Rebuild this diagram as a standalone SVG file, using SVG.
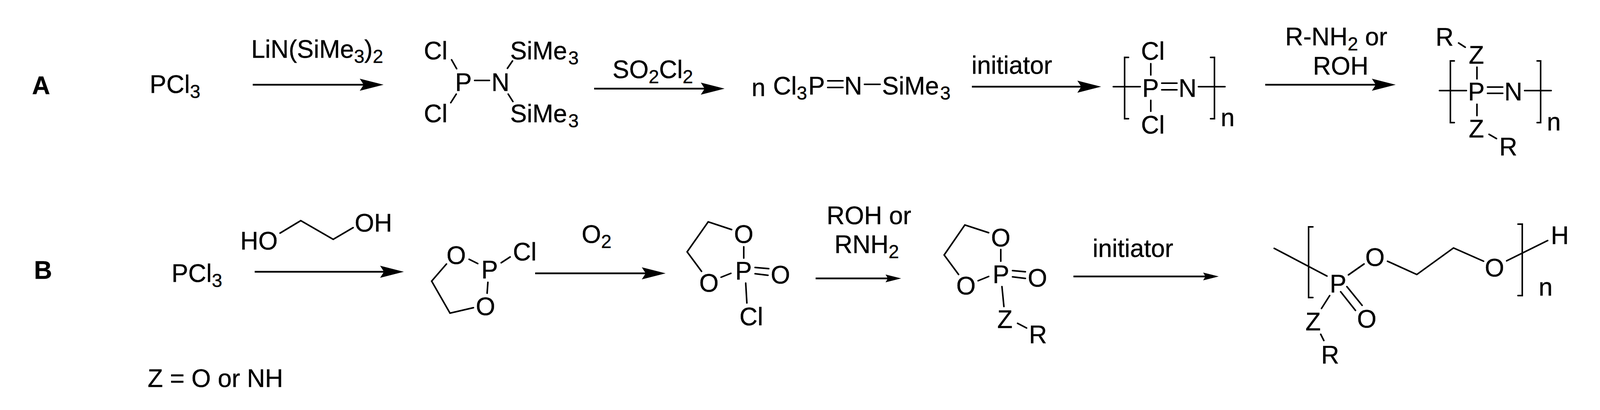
<svg xmlns="http://www.w3.org/2000/svg" width="4104" height="1050" viewBox="0 0 4104 1050">
<style>
text{font-family:"Liberation Sans",Arial,sans-serif;font-size:64px;fill:#000;stroke:#000;stroke-width:.5}
.h{font-weight:bold}
.s{font-size:48px}
.b{stroke:#000;stroke-width:4;stroke-linecap:round;fill:none}
.a{stroke:#000;stroke-width:4.4;fill:none}
.big{marker-end:url(#big)}
.small{marker-end:url(#small)}
</style>
<defs>
<marker id="big" markerUnits="userSpaceOnUse" markerWidth="62" markerHeight="32" refX="11" refY="16" orient="auto" viewBox="0 0 62 32"><path d="M0 0.5L61 16L0 31.5L10 16Z" fill="#000"/></marker>
<marker id="small" markerUnits="userSpaceOnUse" markerWidth="41" markerHeight="21" refX="7" refY="10.5" orient="auto" viewBox="0 0 41 21"><path d="M0 0.5L40 10.5L0 20.5L6 10.5Z" fill="#000"/></marker>
</defs>
<rect width="4104" height="1050" fill="#fff"/>

<g id="connectors">
<line class="a big" x1="647" y1="217" x2="932" y2="217"/>
<line class="a big" x1="1521" y1="227" x2="1805" y2="227"/>
<line class="a big" x1="2488" y1="222" x2="2769" y2="222"/>
<line class="a big" x1="3239" y1="217" x2="3523" y2="217"/>
<line class="a big" x1="652" y1="696" x2="984" y2="696"/>
<line class="a big" x1="1370" y1="700" x2="1654" y2="700"/>
<line class="a small" x1="2088" y1="713" x2="2274" y2="713"/>
<line class="a small" x1="2748" y1="708" x2="3087" y2="708"/>
</g>

<g id="label-A"><text class="h" x="82" y="241">A</text></g>
<g id="label-B"><text class="h" x="87" y="714">B</text></g>
<g id="note-Z"><text x="378" y="991">Z = O or NH</text></g>

<g id="A-PCl3"><text x="383" y="238">PCl<tspan class="s" dy="13">3</tspan></text></g>
<g id="A-reagent-1"><text x="643" y="148">LiN(SiMe<tspan class="s" dy="13">3</tspan><tspan dy="-13">)</tspan><tspan class="s" dy="13">2</tspan></text></g>

<g id="A-aminophosphine">
<text x="1085" y="152">Cl</text>
<text x="1085" y="313">Cl</text>
<text x="1165" y="233">P</text>
<text x="1258" y="233">N</text>
<text x="1306" y="152">SiMe<tspan class="s" dx="3" dy="13">3</tspan></text>
<text x="1306" y="313">SiMe<tspan class="s" dx="3" dy="13">3</tspan></text>
<path class="b" d="M1156 153L1169 176M1168 241L1154 263M1215 206H1253M1312 156L1299 175M1301 241L1313 260"/>
</g>

<g id="A-reagent-2"><text x="1568" y="200">SO<tspan class="s" dy="13">2</tspan><tspan dy="-13">Cl</tspan><tspan class="s" dy="13">2</tspan></text></g>

<g id="A-monomer">
<text x="1924" y="246">n</text>
<text x="1979" y="242">Cl<tspan class="s" dy="13">3</tspan></text>
<text x="2069" y="242">P</text>
<text x="2161" y="242">N</text>
<text x="2258" y="242">SiMe<tspan class="s" dx="3" dy="13">3</tspan></text>
<path class="b" d="M2119 207H2158M2119 224H2158M2213 216H2253"/>
</g>

<g id="A-initiator"><text x="2487" y="189">initiator</text></g>

<g id="A-polymer-Cl">
<text x="2921" y="153">Cl</text>
<text x="2921" y="342">Cl</text>
<text x="2924" y="248">P</text>
<text x="3017" y="248">N</text>
<text x="3125" y="323">n</text>
<path class="b" d="M2946 163V192M2946 257V285M2850 222H2919M3068 222H3136M2974 213H3013M2974 230H3013"/>
<path class="b" d="M2889 147H2879V304H2889M3099 147H3109V304H3099"/>
</g>

<g id="A-reagent-3">
<text x="3290" y="116">R-NH<tspan class="s" dy="13">2</tspan><tspan dy="-13"> or</tspan></text>
<text x="3361" y="191">ROH</text>
</g>

<g id="A-polymer-Z">
<text x="3675" y="117">R</text>
<text x="3760" y="163">Z</text>
<text x="3758" y="257">P</text>
<text x="3851" y="257">N</text>
<text x="3760" y="352">Z</text>
<text x="3838" y="398">R</text>
<text x="3960" y="334">n</text>
<path class="b" d="M3734 110L3751 121M3781 172V202M3781 267V296M3685 232H3754M3903 232H3971M3808 223H3847M3808 239H3847M3812 344L3831 355"/>
<path class="b" d="M3723 156H3713V314H3723M3935 156H3944V314H3935"/>
</g>

<g id="B-PCl3"><text x="439" y="722">PCl<tspan class="s" dy="13">3</tspan></text></g>

<g id="B-glycol">
<text x="615" y="639">HO</text>
<text x="908" y="593">OH</text>
<path class="b" d="M717 597L770 565L853 613L904 583"/>
</g>

<g id="B-chlorophospholane">
<text x="1143" y="676">O</text>
<text x="1232" y="713">P</text>
<text x="1313" y="667">Cl</text>
<text x="1218" y="807">O</text>
<path class="b" d="M1201 664L1223 675M1283 673L1306 658M1249 723L1247 751M1143 676L1105 720L1152 802L1212 788"/>
</g>

<g id="B-reagent-O2"><text x="1489" y="622">O<tspan class="s" dy="13">2</tspan></text></g>

<g id="B-COP">
<text x="1879" y="622">O</text>
<text x="1882" y="716">P</text>
<text x="1973" y="726">O</text>
<text x="1790" y="747">O</text>
<text x="1893" y="833">Cl</text>
<path class="b" d="M1873 588L1813 568L1759 645L1796 695M1904 632V661M1933 685L1968 688M1933 701L1966 705M1846 710L1871 700M1909 725L1912 776"/>
</g>

<g id="B-reagent-ROH">
<text x="2116" y="574">ROH or</text>
<text x="2136" y="648">RNH<tspan class="s" dy="13">2</tspan></text>
</g>

<g id="B-phospholane-Z">
<text x="2537" y="631">O</text>
<text x="2541" y="725">P</text>
<text x="2631" y="734">O</text>
<text x="2448" y="754">O</text>
<text x="2553" y="840">Z</text>
<text x="2634" y="879">R</text>
<path class="b" d="M2531 596L2470 576L2417 653L2454 703M2562 639V669M2592 693L2625 696M2592 709L2625 713M2504 719L2531 708M2565 734L2570 785M2605 828L2628 840"/>
</g>

<g id="B-initiator"><text x="2797" y="658">initiator</text></g>

<g id="B-polymer">
<text x="3404" y="749">P</text>
<text x="3495" y="681">O</text>
<text x="3801" y="708">O</text>
<text x="3970" y="625">H</text>
<text x="3939" y="757">n</text>
<text x="3474" y="839">O</text>
<text x="3342" y="846">Z</text>
<text x="3382" y="931">R</text>
<path class="b" d="M3262 636L3397 707M3452 704L3492 676M3552 669L3627 703L3721 635L3798 669M3857 668L3962 616M3448 734L3487 782M3432 747L3470 795M3404 757L3383 790M3381 856L3389 872"/>
<path class="b" d="M3361 581H3350V762H3361M3886 574H3897V757H3886"/>
</g>
</svg>
